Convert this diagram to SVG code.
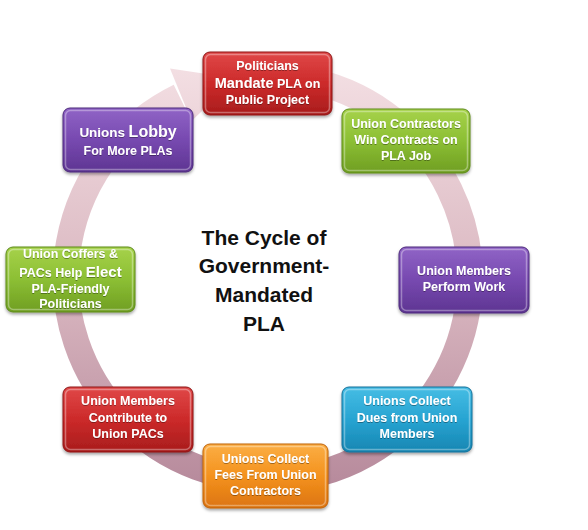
<svg xmlns="http://www.w3.org/2000/svg" width="588" height="530" viewBox="0 0 588 530">
<defs>
  <linearGradient id="ringG" gradientUnits="userSpaceOnUse" x1="0" y1="60" x2="0" y2="495">
    <stop offset="0" stop-color="#f4e0e4"/>
    <stop offset="0.5" stop-color="#dbb9c2"/>
    <stop offset="1" stop-color="#b5889a"/>
  </linearGradient>
  <linearGradient id="gRed" x1="0" y1="0" x2="0" y2="1">
    <stop offset="0" stop-color="#e04848"/>
    <stop offset="0.5" stop-color="#cc2a2a"/>
    <stop offset="1" stop-color="#a81c1c"/>
  </linearGradient>
  <linearGradient id="gGreen" x1="0" y1="0" x2="0" y2="1">
    <stop offset="0" stop-color="#a6d24a"/>
    <stop offset="0.5" stop-color="#8cbf34"/>
    <stop offset="1" stop-color="#6f9e22"/>
  </linearGradient>
  <linearGradient id="gPurple" x1="0" y1="0" x2="0" y2="1">
    <stop offset="0" stop-color="#9064c6"/>
    <stop offset="0.5" stop-color="#7749b0"/>
    <stop offset="1" stop-color="#5e3592"/>
  </linearGradient>
  <linearGradient id="gCyan" x1="0" y1="0" x2="0" y2="1">
    <stop offset="0" stop-color="#46bde4"/>
    <stop offset="0.5" stop-color="#27a4d2"/>
    <stop offset="1" stop-color="#1786b2"/>
  </linearGradient>
  <linearGradient id="gOrange" x1="0" y1="0" x2="0" y2="1">
    <stop offset="0" stop-color="#fbae44"/>
    <stop offset="0.5" stop-color="#f4921e"/>
    <stop offset="1" stop-color="#dc7410"/>
  </linearGradient>
  <filter id="sh" x="-10%" y="-10%" width="120%" height="130%">
    <feDropShadow dx="0" dy="2" stdDeviation="1.5" flood-color="#000" flood-opacity="0.35"/>
  </filter>
  <filter id="tsh" x="-10%" y="-20%" width="120%" height="140%">
    <feDropShadow dx="0" dy="1" stdDeviation="0.6" flood-color="#000" flood-opacity="0.35"/>
  </filter>
</defs>
<style>
  .box { stroke-width: 1; filter: url(#sh); }
  .hl { fill: none; stroke: #ffffff; stroke-opacity: 0.35; stroke-width: 1.5; }
  .t { font-family: "Liberation Sans", Arial, sans-serif; font-weight: bold; font-size: 12.5px; fill: #ffffff; text-anchor: middle; filter: url(#tsh); }
  .title { font-family: "Liberation Sans", Arial, sans-serif; font-weight: bold; font-size: 21px; fill: #111111; text-anchor: middle; }
</style>
<rect width="588" height="530" fill="#ffffff"/>

<g id="connectors">
  <path d="M303.1,79.1 A202,202 0 1 1 179.4,96.4" fill="none" stroke="url(#ringG)" stroke-width="26"/>
  <path d="M191.5,121 L170,68.5 L236.4,78.5 Z" fill="url(#ringG)"/>
</g>

<g id="title">
  <text class="title" x="264" y="245">The Cycle of</text>
  <text class="title" x="264" y="273">Government-</text>
  <text class="title" x="264" y="302">Mandated</text>
  <text class="title" x="264" y="331">PLA</text>
</g>

<g id="n1">
  <rect class="box" x="203" y="52" width="129" height="63" rx="7" fill="url(#gRed)" stroke="#8e1616"/>
  <rect class="hl" x="205.5" y="54.5" width="124" height="58" rx="5"/>
  <text class="t" x="267.5" y="70">Politicians</text>
  <text class="t" x="267.5" y="88"><tspan font-size="14.5px">Mandate</tspan> PLA on</text>
  <text class="t" x="267.5" y="104">Public Project</text>
</g>

<g id="n2">
  <rect class="box" x="342" y="109" width="128" height="64" rx="7" fill="url(#gGreen)" stroke="#5e8a1c"/>
  <rect class="hl" x="344.5" y="111.5" width="123" height="59" rx="5"/>
  <text class="t" x="406" y="128">Union Contractors</text>
  <text class="t" x="406" y="144">Win Contracts on</text>
  <text class="t" x="406" y="160">PLA Job</text>
</g>

<g id="n3">
  <rect class="box" x="399" y="247" width="130" height="66" rx="7" fill="url(#gPurple)" stroke="#4c2a7a"/>
  <rect class="hl" x="401.5" y="249.5" width="125" height="61" rx="5"/>
  <text class="t" x="464" y="275">Union Members</text>
  <text class="t" x="464" y="291">Perform Work</text>
</g>

<g id="n4">
  <rect class="box" x="342" y="387" width="130" height="65" rx="7" fill="url(#gCyan)" stroke="#12709a"/>
  <rect class="hl" x="344.5" y="389.5" width="125" height="60" rx="5"/>
  <text class="t" x="407" y="405">Unions Collect</text>
  <text class="t" x="407" y="422">Dues from Union</text>
  <text class="t" x="407" y="438">Members</text>
</g>

<g id="n5">
  <rect class="box" x="203" y="444" width="125" height="64" rx="7" fill="url(#gOrange)" stroke="#bf620c"/>
  <rect class="hl" x="205.5" y="446.5" width="120" height="59" rx="5"/>
  <text class="t" x="265.5" y="463">Unions Collect</text>
  <text class="t" x="265.5" y="479">Fees From Union</text>
  <text class="t" x="265.5" y="495">Contractors</text>
</g>

<g id="n6">
  <rect class="box" x="63" y="387" width="130" height="65" rx="7" fill="url(#gRed)" stroke="#8e1616"/>
  <rect class="hl" x="65.5" y="389.5" width="125" height="60" rx="5"/>
  <text class="t" x="128" y="405">Union Members</text>
  <text class="t" x="128" y="422">Contribute to</text>
  <text class="t" x="128" y="438">Union PACs</text>
</g>

<g id="n7">
  <rect class="box" x="6" y="247" width="129" height="65" rx="7" fill="url(#gGreen)" stroke="#5e8a1c"/>
  <rect class="hl" x="8.5" y="249.5" width="124" height="60" rx="5"/>
  <text class="t" x="70.5" y="258">Union Coffers &amp;</text>
  <text class="t" x="70.5" y="277">PACs Help <tspan font-size="15px">Elect</tspan></text>
  <text class="t" x="70.5" y="293">PLA-Friendly</text>
  <text class="t" x="70.5" y="308">Politicians</text>
</g>

<g id="n8">
  <rect class="box" x="63" y="108" width="130" height="64" rx="7" fill="url(#gPurple)" stroke="#4c2a7a"/>
  <rect class="hl" x="65.5" y="110.5" width="125" height="59" rx="5"/>
  <text class="t" x="128" y="137"><tspan font-size="13.5px">Unions</tspan> <tspan font-size="16px">Lobby</tspan></text>
  <text class="t" x="128" y="155">For More PLAs</text>
</g>
</svg>
